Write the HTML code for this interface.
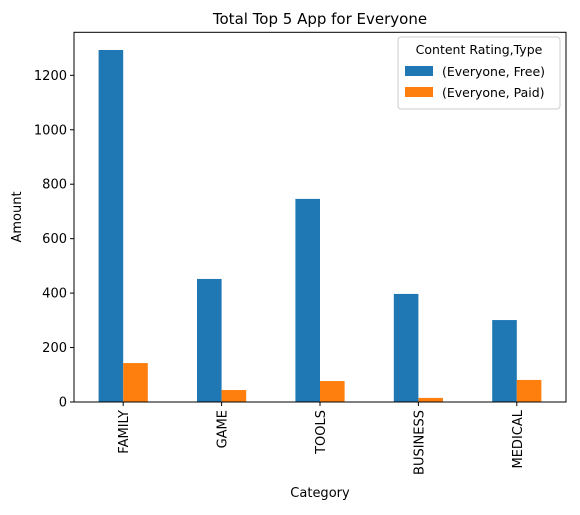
<!DOCTYPE html>
<html><head><meta charset="utf-8"><style>
body{margin:0;background:#fff;}
svg text{font-family:"DejaVu Sans","Liberation Sans",sans-serif;fill:#000;}
</style></head><body>
<svg id="chart" width="580" height="510" xmlns="http://www.w3.org/2000/svg">
<text x="320" y="24" font-size="15" text-anchor="middle">Total Top 5 App for Everyone</text>
<g id="bars"></g>
<rect x="74" y="32.3" width="492" height="369.7" fill="none" stroke="#000" stroke-width="1"/>
<g id="yaxis"></g><g id="xaxis"></g>
<text transform="translate(21,217) rotate(-90)" font-size="13" text-anchor="middle">Amount</text>
<text x="320" y="497" font-size="13" text-anchor="middle">Category</text>
<g>
<rect x="398" y="37" width="162" height="72" rx="3" fill="#fff" stroke="#ccc"/>
<text x="479" y="54" font-size="12.5" text-anchor="middle">Content Rating,Type</text>
<rect x="405" y="66" width="28" height="10" fill="#1f77b4"/>
<text x="442" y="76" font-size="12.5">(Everyone, Free)</text>
<rect x="405" y="87" width="28" height="10" fill="#ff7f0e"/>
<text x="442" y="97" font-size="12.5">(Everyone, Paid)</text>
</g>
</svg>
<script>
const categories=["FAMILY","GAME","TOOLS","BUSINESS","MEDICAL"];
const freeValues=[1293,452,746,397,301];
const paidValues=[143,44,77,15,81];
const yTicks=[0,200,400,600,800,1000,1200];
const NS="http://www.w3.org/2000/svg";
const L=74,R=566,T=32.3,B=402,YMAX=1358;
const y=v=>B-v/YMAX*(B-T);
const step=(R-L)/categories.length;
const xc=i=>L+step*(i+0.5);
const bw=step*0.25;
function mk(tag,attrs,parent){const e=document.createElementNS(NS,tag);for(const k in attrs)e.setAttribute(k,attrs[k]);parent.appendChild(e);return e;}
const bars=document.getElementById("bars"),ya=document.getElementById("yaxis"),xa=document.getElementById("xaxis");
categories.forEach((c,i)=>{
  const f=mk("rect",{x:xc(i)-bw,y:y(freeValues[i]),width:bw,height:B-y(freeValues[i]),fill:"#1f77b4"},bars);
  
  
  const p=mk("rect",{x:xc(i),y:y(paidValues[i]),width:bw,height:B-y(paidValues[i]),fill:"#ff7f0e"},bars);
  
  
  mk("line",{x1:xc(i),x2:xc(i),y1:B,y2:B+4,stroke:"#000"},xa);
  const t=mk("text",{transform:`translate(${xc(i)+5},${B+8}) rotate(-90)`,"font-size":13,"text-anchor":"end"},xa);
  t.textContent=c;
  
  
});
yTicks.forEach(v=>{
  mk("line",{x1:L-4,x2:L,y1:y(v),y2:y(v),stroke:"#000"},ya);
  const t=mk("text",{x:L-7,y:y(v)+4.5,"font-size":13,"text-anchor":"end"},ya);
  t.textContent=v;
  
  
});
</script>
</body></html>
